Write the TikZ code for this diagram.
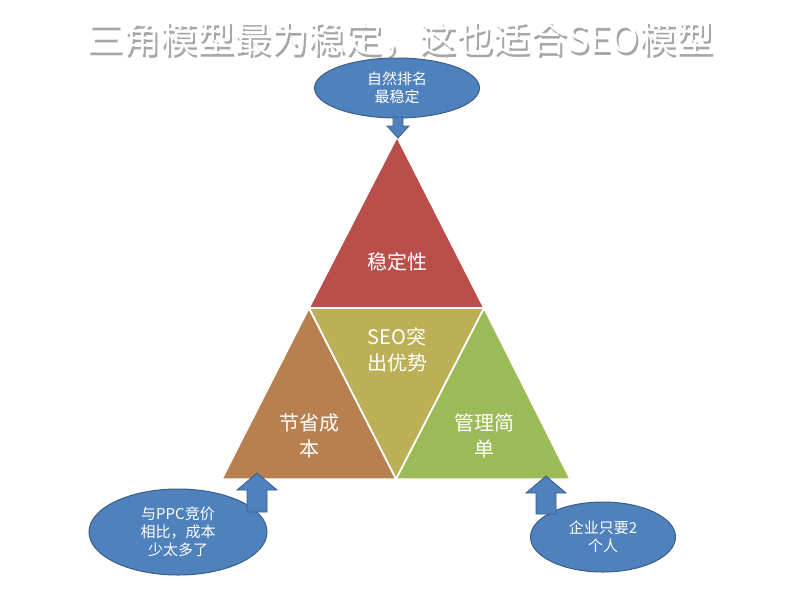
\documentclass[tikz,border=0pt]{standalone}
\usepackage{fontspec}
\setmainfont{Noto Sans CJK SC}
\usetikzlibrary{shapes.geometric}
\definecolor{tred}{HTML}{B94E4B}
\definecolor{tbrown}{HTML}{B8804E}
\definecolor{tgreen}{HTML}{9BBB59}
\definecolor{tolive}{HTML}{BBB055}
\definecolor{bubble}{HTML}{4F81BD}
\definecolor{bubbleline}{HTML}{385D8A}
\tikzset{
  part/.style={draw=white, line width=1.5pt},
  bubble/.style={ellipse, draw=bubbleline, line width=1pt, fill=bubble, text=white, font=\fontsize{15}{18}\selectfont, align=center, inner sep=0pt},
  push/.style={draw=bubbleline, line width=0.8pt, fill=bubble},
  label/.style={text=white, font=\fontsize{20}{26}\selectfont, align=center}
}
\begin{document}
\begin{tikzpicture}[x=1pt, y=-1pt]
\useasboundingbox (0,0) rectangle (794,606);
% title
\node[text=gray!70, font=\fontsize{37}{40}\selectfont] (shade) at (402,42) {三角模型最为稳定，这也适合SEO模型};
\node[text=white, font=\fontsize{37}{40}\selectfont] (title) at (400,39) {三角模型最为稳定，这也适合SEO模型};
% triangle
\coordinate (top) at (397,137);
\coordinate (bl) at (222,479);
\coordinate (br) at (570,479);
\coordinate (ml) at (309,308);
\coordinate (mr) at (484,308);
\coordinate (mb) at (396,479);
\fill[part, fill=tred] (top) -- (ml) -- (mr) -- cycle;
\fill[part, fill=tbrown] (ml) -- (bl) -- (mb) -- cycle;
\fill[part, fill=tgreen] (mr) -- (mb) -- (br) -- cycle;
\fill[part, fill=tolive] (ml) -- (mr) -- (mb) -- cycle;
\draw[white, line width=1.5pt] (ml) -- (mr) -- (mb) -- cycle;
\node[label] (stab) at (397,262) {稳定性};
\node[label] (core) at (397,350) {SEO突\\出优势};
\node[label] (cost) at (309,436) {节省成\\本};
\node[label] (mgmt) at (484,436) {管理简\\单};
% bubbles
\node[bubble, minimum width=165pt, minimum height=60pt] (rank) at (397,88) {自然排名\\最稳定};
\node[bubble, minimum width=178pt, minimum height=86pt] (ppc) at (178,532) {与PPC竞价\\相比，成本\\少太多了};
\node[bubble, minimum width=145pt, minimum height=70pt] (staff) at (603,537) {企业只要2\\个人};
% arrows
\draw[push] (393,117) -- (403,117) -- (403,126) -- (409,126) -- (398,138) -- (387,126) -- (393,126) -- cycle;
\draw[push] (247,512) -- (267,512) -- (267,490) -- (277,490) -- (257,473) -- (237,490) -- (247,490) -- cycle;
\draw[push] (536,514) -- (556,514) -- (556,493) -- (566,493) -- (546,476) -- (526,493) -- (536,493) -- cycle;
\end{tikzpicture}
\end{document}
